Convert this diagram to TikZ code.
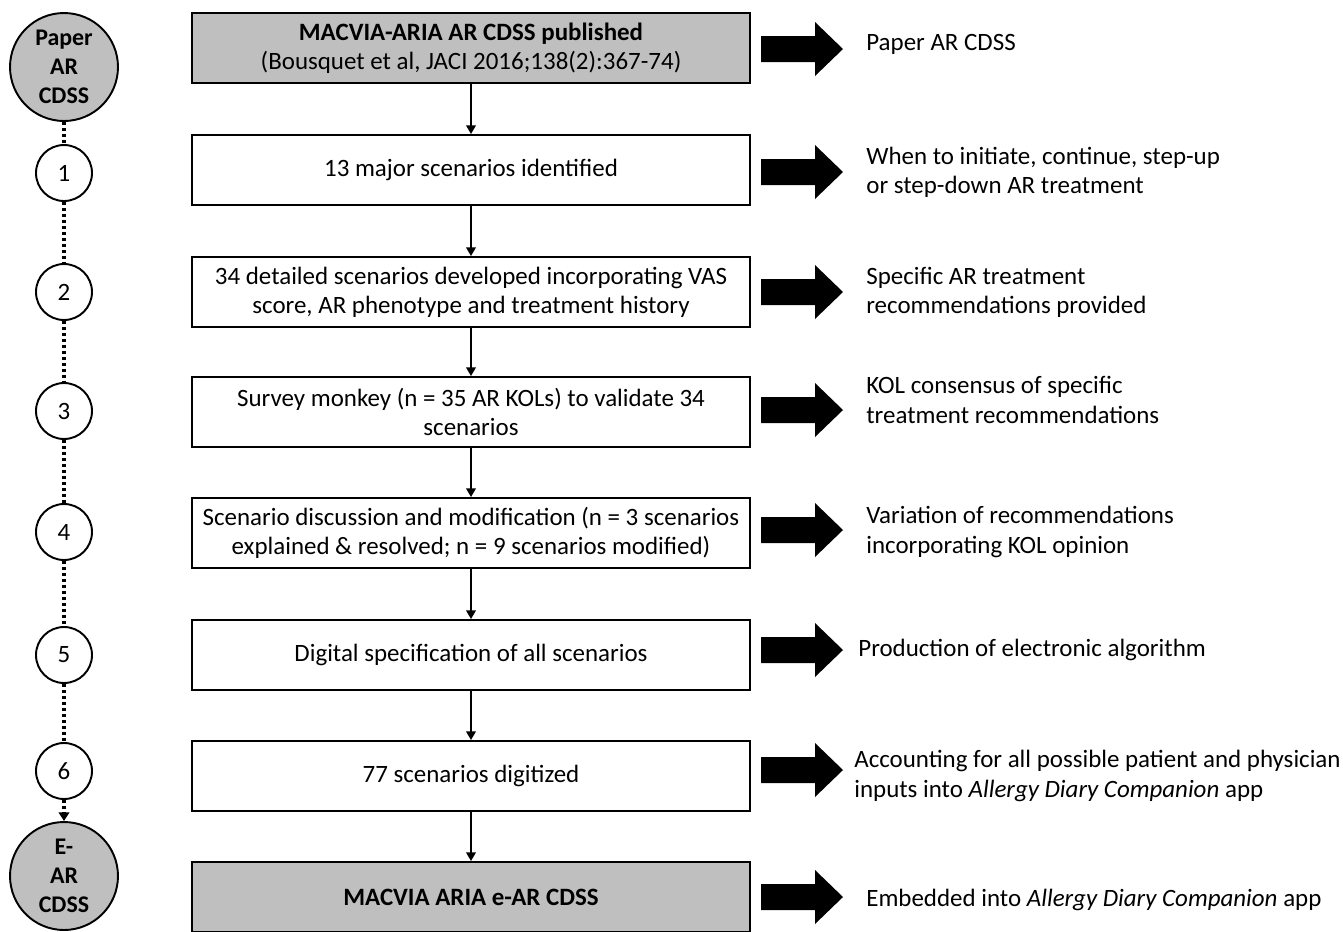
\documentclass[tikz,border=0pt]{standalone}
\usepackage{fontspec}
\setmainfont{Carlito}
\usetikzlibrary{arrows.meta}
\definecolor{boxgray}{RGB}{191,191,191}
\begin{document}
\begin{tikzpicture}[x=0.02cm, y=-0.02cm, font=\fontsize{14.2}{16.6}\selectfont, line join=miter, >={Triangle[width=5.5pt,length=5pt]},
	stagebox/.style={draw, line width=1.1pt, minimum width=11.16cm, minimum height=1.4cm, align=center, inner sep=0pt},
	stepcirc/.style={draw, circle, line width=1.1pt, minimum size=1.12cm, inner sep=0pt},
	endcirc/.style={draw, circle, fill=boxgray, line width=1.1pt, minimum size=2.16cm, inner sep=0pt, align=center, font=\fontsize{13.6}{16.6}\selectfont\bfseries},
	outtext/.style={anchor=west, align=left, inner sep=0pt},
	dotline/.style={line width=2pt, dash pattern=on 2pt off 1.4pt}]
	\useasboundingbox (0,0) rectangle (1343,931);
	
	\node[stagebox, fill=boxgray] (b0) at (471,48) {\textbf{MACVIA-ARIA AR CDSS published}\\(Bousquet et al, JACI 2016;138(2):367-74)};
	\node[stagebox] (b1) at (471,170) {13 major scenarios identified};
	\node[stagebox] (b2) at (471,292) {34 detailed scenarios developed incorporating VAS\\score, AR phenotype and treatment history};
	\node[stagebox] (b3) at (471,412) {Survey monkey (n = 35 AR KOLs) to validate 34\\scenarios};
	\node[stagebox] (b4) at (471,533) {Scenario discussion and modification (n = 3 scenarios\\explained \& resolved; n = 9 scenarios modified)};
	\node[stagebox] (b5) at (471,655) {Digital specification of all scenarios};
	\node[stagebox] (b6) at (471,776) {77 scenarios digitized};
	\node[stagebox, fill=boxgray] (b7) at (471,897) {\textbf{MACVIA ARIA e-AR CDSS}};
	\foreach \a/\b in {b0/b1,b1/b2,b2/b3,b3/b4,b4/b5,b5/b6,b6/b7}
	\draw[->, line width=1.1pt] (\a) -- (\b);
	
	\node[endcirc] (c0) at (64,67) {Paper\\AR\\CDSS};
	\foreach \n/\y in {1/173,2/292,3/411,4/532,5/655,6/771}
	\node[stepcirc] (c\n) at (64,\y) {\n};
	\node[endcirc] (c7) at (64,876) {E-\\AR\\CDSS};
	\foreach \a/\b in {c0/c1,c1/c2,c2/c3,c3/c4,c4/c5,c5/c6}
	\draw[dotline] (\a) -- (\b);
	\draw[dotline, -{Triangle[width=6pt,length=5pt]}] (c6) -- (c7);
	
	\foreach \y in {49,172,292,410,530,650,770,897}
	\fill (761,\y-13) -- (815,\y-13) -- (815,\y-27) -- (843,\y) -- (815,\y+27) -- (815,\y+13) -- (761,\y+13) -- cycle;
	
	\node[outtext] (o0) at (866,44) {Paper AR CDSS};
	\node[outtext] (o1) at (866,172) {When to initiate, continue, step-up\\or step-down AR treatment};
	\node[outtext] (o2) at (866,292) {Specific AR treatment\\recommendations provided};
	\node[outtext] (o3) at (866,400) {KOL consensus of specific\\treatment recommendations};
	\node[outtext] (o4) at (866,532) {Variation of recommendations\\incorporating KOL opinion};
	\node[outtext] (o5) at (858,650) {Production of electronic algorithm};
	\node[outtext] (o6) at (854,776) {Accounting for all possible patient and physician\\inputs into \textit{Allergy Diary Companion} app};
	\node[outtext] (o7) at (866,900) {Embedded into \textit{Allergy Diary Companion} app};
\end{tikzpicture}
\end{document}
